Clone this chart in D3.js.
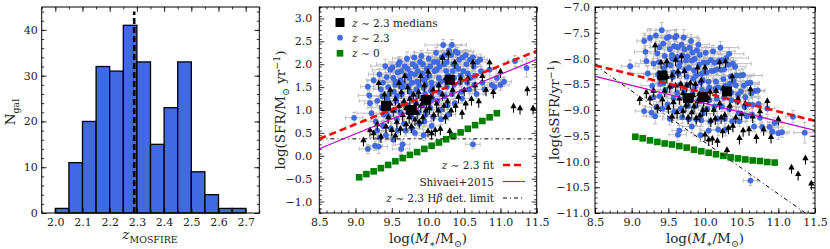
<!DOCTYPE html>
<html>
<head>
<meta charset="utf-8">
<script src="https://cdn.jsdelivr.net/npm/d3@7"></script>
<style>
body { margin: 0; background: #fff; }
svg { display: block; font-family: "DejaVu Serif", "Liberation Serif", serif; }
</style>
</head>
<body>
<svg id="fig" width="830" height="249"></svg>
<script>
// ---- histogram of spectroscopic redshifts
var binLeft = [2.00, 2.05, 2.10, 2.15, 2.20, 2.25, 2.30, 2.35, 2.40, 2.45, 2.50, 2.55, 2.60, 2.65];
var binCount = [1, 11, 20, 32, 31, 41, 33, 15, 23, 33, 9, 4, 1, 1];
var binWidth = 0.05;
var zMedian = 2.29;
var histXTicks = [2.0, 2.1, 2.2, 2.3, 2.4, 2.5, 2.6, 2.7];
var histYTicks = [0, 10, 20, 30, 40];

// ---- z~2.3 detections: [logM, logSFR, errM, errSFR]
var detections = [
  [8.98,0.83,0.12,0.12],
  [9.17,1.51,0.10,0.15],[9.19,1.32,0.15,0.12],[9.20,1.15,0.08,0.10],[9.22,0.93,0.20,0.15],[9.17,0.15,0.12,0.10],
  [9.25,1.65,0.10,0.18],[9.28,0.75,0.15,0.12],[9.30,1.20,0.25,0.10],[9.27,0.22,0.10,0.10],[9.30,0.55,0.12,0.15],
  [9.33,1.78,0.15,0.12],[9.35,1.45,0.10,0.10],[9.36,1.05,0.20,0.15],[9.38,1.60,0.12,0.12],[9.34,0.40,0.15,0.10],
  [9.38,0.65,0.10,0.12],[9.32,0.20,0.12,0.15],[9.37,1.30,0.18,0.10],[9.39,0.90,0.10,0.12],
  [9.41,1.96,0.20,0.15],[9.43,1.72,0.10,0.10],[9.45,1.50,0.15,0.12],[9.44,1.25,0.12,0.15],[9.46,0.85,0.18,0.12],
  [9.42,0.45,0.10,0.10],[9.48,1.88,0.25,0.12],[9.47,1.35,0.10,0.10],[9.49,0.60,0.12,0.15],[9.45,1.10,0.15,0.10],
  [9.43,0.95,0.10,0.12],
  [9.51,1.93,0.12,0.12],[9.52,1.70,0.20,0.15],[9.55,1.55,0.10,0.10],[9.53,1.40,0.15,0.12],[9.56,1.20,0.12,0.10],
  [9.54,1.00,0.18,0.15],[9.57,0.80,0.10,0.12],[9.58,0.55,0.15,0.10],[9.52,0.35,0.10,0.12],[9.59,2.00,0.30,0.15],
  [9.58,1.82,0.12,0.10],[9.55,1.62,0.10,0.12],[9.57,1.30,0.20,0.10],
  [9.61,2.05,0.15,0.12],[9.63,1.85,0.10,0.10],[9.62,1.65,0.20,0.15],[9.65,1.50,0.12,0.12],[9.64,1.35,0.10,0.10],
  [9.66,1.15,0.15,0.12],[9.62,0.95,0.12,0.10],[9.67,0.70,0.18,0.15],[9.65,0.25,0.10,0.10],[9.63,0.15,0.12,0.12],
  [9.68,1.95,0.25,0.12],[9.69,1.75,0.10,0.10],[9.66,1.58,0.15,0.12],[9.69,0.55,0.10,0.12],
  [9.71,2.12,0.20,0.15],[9.72,1.90,0.10,0.10],[9.74,1.70,0.15,0.12],[9.73,1.52,0.12,0.10],[9.75,1.40,0.10,0.12],
  [9.76,1.25,0.18,0.10],[9.72,1.10,0.12,0.15],[9.77,0.85,0.10,0.12],[9.78,0.60,0.15,0.10],[9.79,2.00,0.30,0.12],
  [9.76,1.80,0.12,0.10],[9.78,1.60,0.10,0.12],[9.74,0.95,0.15,0.10],
  [9.81,2.15,0.12,0.12],[9.83,1.95,0.20,0.15],[9.82,1.78,0.10,0.10],[9.85,1.62,0.15,0.12],[9.84,1.45,0.12,0.10],
  [9.86,1.30,0.10,0.12],[9.83,1.15,0.18,0.10],[9.87,0.95,0.12,0.15],[9.88,0.70,0.10,0.12],[9.89,2.05,0.25,0.12],
  [9.86,1.85,0.10,0.10],[9.88,1.55,0.15,0.12],[9.82,0.50,0.12,0.12],
  [9.91,2.18,0.15,0.12],[9.93,2.00,0.10,0.10],[9.92,1.80,0.20,0.15],[9.95,1.65,0.12,0.12],[9.94,1.48,0.10,0.10],
  [9.96,1.35,0.15,0.12],[9.93,1.10,0.12,0.10],[9.97,0.90,0.18,0.15],[9.94,0.45,0.10,0.12],[9.98,1.90,0.30,0.12],
  [9.99,1.72,0.10,0.10],[9.97,1.55,0.15,0.12],[9.95,0.75,0.10,0.12],
  [10.01,2.12,0.20,0.12],[10.03,1.95,0.10,0.10],[10.02,1.75,0.15,0.15],[10.05,1.60,0.12,0.12],[10.04,1.42,0.10,0.10],
  [10.06,1.25,0.18,0.12],[10.03,1.05,0.12,0.10],[10.07,0.85,0.10,0.15],[10.08,2.05,0.25,0.12],[10.09,1.85,0.10,0.10],
  [10.06,1.50,0.15,0.12],[10.05,0.65,0.12,0.12],
  [10.11,2.25,0.30,0.12],[10.13,2.05,0.12,0.10],[10.12,1.88,0.10,0.15],[10.15,1.70,0.15,0.12],[10.14,1.55,0.12,0.10],
  [10.16,1.38,0.10,0.12],[10.13,1.20,0.18,0.10],[10.17,1.00,0.12,0.15],[10.18,0.80,0.10,0.12],[10.19,2.15,0.20,0.12],
  [10.16,1.95,0.10,0.10],[10.18,1.62,0.15,0.12],
  [10.21,2.42,0.25,0.12],[10.23,2.20,0.12,0.10],[10.22,2.00,0.10,0.15],[10.25,1.85,0.15,0.12],[10.24,1.65,0.12,0.10],
  [10.26,1.50,0.10,0.12],[10.23,1.30,0.18,0.10],[10.27,1.10,0.12,0.15],[10.28,0.90,0.10,0.12],[10.29,2.30,0.30,0.12],
  [10.26,2.05,0.10,0.10],[10.28,1.75,0.15,0.12],
  [10.33,2.42,0.20,0.12],[10.32,2.20,0.12,0.10],[10.35,2.00,0.10,0.15],[10.34,1.85,0.15,0.12],[10.36,1.55,0.12,0.10],
  [10.33,1.35,0.10,0.12],[10.37,1.15,0.18,0.10],[10.38,2.28,0.25,0.12],[10.39,1.95,0.10,0.10],[10.36,1.70,0.15,0.12],
  [10.41,2.25,0.15,0.12],[10.43,2.10,0.10,0.10],[10.42,1.90,0.20,0.15],[10.45,1.75,0.12,0.12],[10.44,1.60,0.10,0.10],
  [10.46,1.40,0.15,0.12],[10.48,2.15,0.30,0.12],[10.47,1.25,0.10,0.10],[10.49,1.85,0.12,0.12],
  [10.52,2.20,0.15,0.12],[10.53,2.00,0.10,0.10],[10.55,1.80,0.20,0.15],[10.54,1.60,0.12,0.12],[10.57,1.45,0.10,0.10],
  [10.58,2.10,0.15,0.12],[10.59,1.70,0.10,0.10],
  [10.62,2.15,0.12,0.12],[10.63,1.95,0.10,0.10],[10.65,1.75,0.15,0.15],[10.64,1.55,0.10,0.12],[10.62,0.25,0.10,0.10],
  [10.68,2.05,0.12,0.12],[10.67,1.35,0.10,0.10],
  [10.72,2.10,0.10,0.12],[10.73,1.85,0.12,0.10],[10.75,1.60,0.10,0.12],[10.78,1.45,0.15,0.10],[10.85,1.88,0.10,0.12],
  [10.88,1.55,0.12,0.10],[10.92,1.50,0.10,0.12],[10.95,1.70,0.10,0.10],[11.00,1.55,0.12,0.12],[11.05,1.62,0.10,0.10],
  [11.20,2.07,0.10,0.12],[11.36,1.92,0.15,0.20]
];

// ---- z~2.3 lower limits (Hb not detected): [logM, logSFR]
var limits = [
  [9.11,0.20],[9.20,0.42],[9.25,0.35],[9.32,1.45],[9.30,0.55],[9.35,0.28],[9.38,0.90],[9.40,1.20],[9.42,0.50],
  [9.45,0.70],[9.48,1.00],[9.50,0.42],[9.48,1.30],
  [9.52,0.85],[9.55,1.10],[9.57,0.60],[9.60,0.95],[9.62,0.45],[9.63,1.25],[9.65,0.75],[9.67,1.05],[9.70,0.55],
  [9.70,0.90],[9.72,1.35],[9.74,0.70],[9.75,1.10],[9.77,0.50],[9.78,0.85],[9.60,1.45],[9.68,1.60],[9.55,0.30],
  [9.80,1.20],
  [9.82,0.65],[9.84,1.00],[9.85,0.80],[9.87,1.25],[9.88,0.60],[9.90,0.95],[9.92,1.10],[9.93,0.70],[9.95,1.40],
  [9.97,0.85],[9.98,1.05],[10.00,0.40],[10.02,0.90],[10.04,1.15],[10.05,0.35],[10.07,1.30],[10.08,0.75],
  [9.90,1.60],[10.00,1.70],
  [10.10,0.42],[10.12,1.00],[10.14,0.85],[10.15,1.40],[10.17,0.45],[10.20,1.20],[10.22,0.95],[10.24,0.70],
  [10.25,1.55],[10.27,1.05],[10.30,0.40],[10.32,0.85],[10.34,1.30],[10.37,1.90],[10.38,0.95],[10.20,2.00],
  [10.28,2.10],
  [10.42,1.15],[10.45,1.55],[10.47,0.80],[10.50,1.30],[10.52,1.00],[10.55,1.55],[10.60,1.10],[10.62,1.90],
  [10.65,1.40],[10.70,1.05],[10.75,1.60],[10.80,1.30],[10.85,1.90],[10.90,1.25],[11.00,1.70],
  [11.18,0.94],[11.27,0.90],[11.37,1.31],[11.45,0.90]
];

// ---- binned medians of the z~2.3 sample
var medM = [9.42, 9.77, 9.97, 10.30];
var medSFR = [1.09, 1.00, 1.22, 1.66];

// ---- z~0 comparison sample
var localM = [9.05, 9.15, 9.25, 9.35, 9.45, 9.55, 9.65, 9.75, 9.85, 9.95,
              10.05, 10.15, 10.25, 10.35, 10.45, 10.55, 10.65, 10.75, 10.85, 10.95];
var localSFR = [-0.47, -0.40, -0.34, -0.27, -0.20, -0.12, -0.05, 0.02, 0.08, 0.15,
                0.22, 0.29, 0.36, 0.43, 0.51, 0.59, 0.67, 0.76, 0.84, 0.93];

// ---- relations, given by end points [logM, logSFR]
var fitLine = [[8.5, 0.37], [11.5, 2.29]];
var shivaeiLine = [[8.5, 0.155], [11.5, 2.105]];
var limitLine = [[8.5, 0.37], [11.5, 0.37]];

var massTicks = [8.5, 9.0, 9.5, 10.0, 10.5, 11.0, 11.5];
var sfrTicks = [-1.0, -0.5, 0.0, 0.5, 1.0, 1.5, 2.0, 2.5, 3.0];
var ssfrTicks = [-11.0, -10.5, -10.0, -9.5, -9.0, -8.5, -8.0, -7.5, -7.0];

var BLUE = "#4169e1", GREEN = "#008000", ERR = "#b8b8b8", MAG = "#bf00bf";
var svg = d3.select("#fig");
var f1 = d3.format(".1f");
var top0 = 7, bot0 = 213;
var TICKFONT = 11, LABFONT = 13.5, LEGFONT = 10.5;

function makeAxes(g, sx, sy, xMaj, xMin, yMaj, yMin, xf, yf, padY) {
    var [x0, x1] = sx.range(), [y1, y0] = sy.range();
    var strip = s => s.attr("font-family", null).attr("font-size", null).select(".domain").remove();
    g.append("g").attr("transform", "translate(0," + y1 + ")")
        .call(d3.axisBottom(sx).tickValues(xMaj).tickSize(-5).tickPadding(5).tickFormat(xf)).call(strip);
    g.append("g").attr("transform", "translate(0," + y1 + ")")
        .call(d3.axisBottom(sx).tickValues(xMin).tickSize(-2.5).tickFormat("")).call(strip);
    g.append("g").attr("transform", "translate(0," + y0 + ")")
        .call(d3.axisTop(sx).tickValues(xMaj).tickSize(-5).tickFormat("")).call(strip);
    g.append("g").attr("transform", "translate(0," + y0 + ")")
        .call(d3.axisTop(sx).tickValues(xMin).tickSize(-2.5).tickFormat("")).call(strip);
    g.append("g").attr("transform", "translate(" + x0 + ",0)")
        .call(d3.axisLeft(sy).tickValues(yMaj).tickSize(-5).tickPadding(padY).tickFormat(yf)).call(strip);
    g.append("g").attr("transform", "translate(" + x0 + ",0)")
        .call(d3.axisLeft(sy).tickValues(yMin).tickSize(-2.5).tickFormat("")).call(strip);
    g.append("g").attr("transform", "translate(" + x1 + ",0)")
        .call(d3.axisRight(sy).tickValues(yMaj).tickSize(-5).tickFormat("")).call(strip);
    g.append("g").attr("transform", "translate(" + x1 + ",0)")
        .call(d3.axisRight(sy).tickValues(yMin).tickSize(-2.5).tickFormat("")).call(strip);
    g.selectAll(".tick text").attr("font-size", TICKFONT).attr("fill", "#222");
    g.selectAll(".tick line").attr("stroke", "#000").attr("stroke-width", 0.8);
    g.append("rect").attr("x", x0).attr("y", y0).attr("width", x1 - x0).attr("height", y1 - y0)
        .attr("fill", "none").attr("stroke", "#000").attr("stroke-width", 1);
}

// write text made of parts: [string, kind] kind = "" | "i" | "sub" | "sup"
function mathText(sel, parts, size) {
    var t = sel.append("text").attr("font-size", size).attr("fill", "#222");
    var shift = 0;
    parts.forEach(function (p) {
        var s = t.append("tspan").text(p[0]);
        var want = 0;
        if (p[1] == "sub") want = size * 0.3;
        if (p[1] == "sup") want = -size * 0.4;
        if (p[1] == "sub" || p[1] == "sup") s.attr("font-size", size * 0.7);
        if (p[1] == "i") s.attr("font-style", "italic");
        if (want != shift) { s.attr("dy", want - shift); shift = want; }
    });
    return t;
}

function minorRange(a, b, step) {
    return d3.range(Math.round((b - a) / step) + 1).map(i => +(a + i * step).toFixed(3));
}

// ================= panel 1: histogram
(function () {
    var sx = d3.scaleLinear().domain([1.95, 2.75]).range([41.7, 259.3]);
    var sy = d3.scaleLinear().domain([0, 45]).range([bot0, top0]);
    var g = svg.append("g");
    g.selectAll("rect.bar").data(binLeft).join("rect").attr("class", "bar")
        .attr("x", d => sx(d)).attr("width", d => sx(d + binWidth) - sx(d))
        .attr("y", (d, i) => sy(binCount[i])).attr("height", (d, i) => sy(0) - sy(binCount[i]))
        .attr("fill", BLUE).attr("stroke", "#000").attr("stroke-width", 1.3);
    g.append("line").attr("x1", sx(zMedian)).attr("x2", sx(zMedian))
        .attr("y1", sy(0)).attr("y2", sy(44))
        .attr("stroke", "#000").attr("stroke-width", 2.6).attr("stroke-dasharray", "6,3");
    makeAxes(g, sx, sy, histXTicks, minorRange(1.95, 2.75, 0.05), histYTicks, minorRange(0, 44, 2),
        f1, d3.format("d"), 4);
    mathText(g, [["z", "i"], ["MOSFIRE", "sub"]], LABFONT).attr("x", 150).attr("y", 239).attr("text-anchor", "middle");
    mathText(g, [["N", ""], ["gal", "sub"]], LABFONT).attr("text-anchor", "middle")
        .attr("transform", "translate(15,112) rotate(-90)");
})();

// ================= panels 2 and 3
function scatterPanel(x0, x1, yDom, yTicks, yv, padY) {
    var sx = d3.scaleLinear().domain([8.5, 11.5]).range([x0, x1]);
    var sy = d3.scaleLinear().domain(yDom).range([bot0, top0]);
    var g = svg.append("g");
    var id = "clip" + Math.round(x0);
    g.append("clipPath").attr("id", id).append("rect")
        .attr("x", x0).attr("y", top0).attr("width", x1 - x0).attr("height", bot0 - top0);
    var p = g.append("g").attr("clip-path", "url(#" + id + ")");

    // error bars
    p.append("g").selectAll("path").data(detections).join("path")
        .attr("d", function (d) {
            var x = sx(d[0]), y = sy(yv(d[0], d[1]));
            var xa = sx(d[0] - d[2]), xb = sx(d[0] + d[2]);
            var ya = sy(yv(d[0], d[1]) - d[3]), yb = sy(yv(d[0], d[1]) + d[3]);
            return "M" + xa + "," + y + "H" + xb + "M" + x + "," + ya + "V" + yb +
                "M" + xa + "," + (y - 2) + "v4M" + xb + "," + (y - 2) + "v4" +
                "M" + (x - 2) + "," + ya + "h4M" + (x - 2) + "," + yb + "h4";
        })
        .attr("fill", "none").attr("stroke", ERR).attr("stroke-width", 0.9);
    // detections
    p.append("g").selectAll("circle").data(detections).join("circle")
        .attr("cx", d => sx(d[0])).attr("cy", d => sy(yv(d[0], d[1]))).attr("r", 2.9)
        .attr("fill", BLUE);
    // lower limits
    p.append("g").selectAll("path").data(limits).join("path")
        .attr("d", function (d) {
            var x = sx(d[0]), y = sy(yv(d[0], d[1]));
            return "M" + x + "," + y + "V" + (y - 6) + "M" + (x - 2.2) + "," + (y - 5) +
                "L" + x + "," + (y - 9) + "L" + (x + 2.2) + "," + (y - 5) + "Z";
        })
        .attr("fill", "#000").attr("stroke", "#000").attr("stroke-width", 1.1);
    // z~0
    p.append("g").selectAll("rect").data(localM).join("rect")
        .attr("x", d => sx(d) - 3.3).attr("y", (d, i) => sy(yv(d, localSFR[i])) - 3.3)
        .attr("width", 6.6).attr("height", 6.6).attr("fill", GREEN);
    // relations
    var ln = d3.line().x(d => sx(d[0])).y(d => sy(yv(d[0], d[1])));
    p.append("path").attr("d", ln(limitLine)).attr("fill", "none").attr("stroke", "#000")
        .attr("stroke-width", 1).attr("stroke-dasharray", "4,3,1,3");
    p.append("path").attr("d", ln(shivaeiLine)).attr("fill", "none").attr("stroke", MAG)
        .attr("stroke-width", 1.2);
    p.append("path").attr("d", ln(fitLine)).attr("fill", "none").attr("stroke", "red")
        .attr("stroke-width", 2.6).attr("stroke-dasharray", "7,4");
    // medians
    p.append("g").selectAll("rect").data(medM).join("rect")
        .attr("x", d => sx(d) - 5).attr("y", (d, i) => sy(yv(d, medSFR[i])) - 5)
        .attr("width", 10).attr("height", 10).attr("fill", "#000");

    makeAxes(g, sx, sy, massTicks, minorRange(8.5, 11.5, 0.1), yTicks,
        minorRange(yDom[0], yDom[1], 0.1), f1, f1, padY);
    mathText(g, [["log(", ""], ["M", "i"], ["∗", "sub"], ["/M", ""], ["⊙", "sub"], [")", ""]], LABFONT)
        .attr("x", (x0 + x1) / 2).attr("y", 243).attr("text-anchor", "middle");
    return g;
}

var g2 = scatterPanel(319.3, 536.7, [-1.25, 3.25], sfrTicks, (m, s) => s, 7);
mathText(g2, [["log(SFR/M", ""], ["⊙", "sub"], [" yr", ""], ["−1", "sup"], [")", ""]], LABFONT)
    .attr("text-anchor", "middle").attr("transform", "translate(285,110) rotate(-90)");

var g3 = scatterPanel(595, 815, [-11, -7], ssfrTicks, (m, s) => s - m, 5);
mathText(g3, [["log(sSFR/yr", ""], ["−1", "sup"], [")", ""]], LABFONT)
    .attr("text-anchor", "middle").attr("transform", "translate(559,110) rotate(-90)");

// ---- legends (panel 2)
var lg = svg.append("g");
lg.append("rect").attr("x", 335.5).attr("y", 18).attr("width", 9).attr("height", 9).attr("fill", "#000");
lg.append("circle").attr("cx", 340).attr("cy", 37.7).attr("r", 2.9).attr("fill", BLUE);
lg.append("rect").attr("x", 336.7).attr("y", 50).attr("width", 6.6).attr("height", 6.6).attr("fill", GREEN);
mathText(lg, [["z", "i"], [" ∼ 2.3 medians", ""]], LEGFONT).attr("x", 352).attr("y", 26.5);
mathText(lg, [["z", "i"], [" ∼ 2.3", ""]], LEGFONT).attr("x", 352).attr("y", 41.5);
mathText(lg, [["z", "i"], [" ∼ 0", ""]], LEGFONT).attr("x", 352).attr("y", 57);

mathText(lg, [["z", "i"], [" ∼ 2.3 fit", ""]], LEGFONT).attr("x", 494).attr("y", 168.5).attr("text-anchor", "end");
mathText(lg, [["Shivaei+2015", ""]], LEGFONT).attr("x", 494).attr("y", 185.5).attr("text-anchor", "end");
mathText(lg, [["z", "i"], [" ∼ 2.3 H", ""], ["β", "i"], [" det. limit", ""]], LEGFONT)
    .attr("x", 494).attr("y", 201.5).attr("text-anchor", "end");
lg.append("line").attr("x1", 503).attr("x2", 525).attr("y1", 165).attr("y2", 165)
    .attr("stroke", "red").attr("stroke-width", 2.6).attr("stroke-dasharray", "7,4");
lg.append("line").attr("x1", 503).attr("x2", 525).attr("y1", 181.5).attr("y2", 181.5)
    .attr("stroke", MAG).attr("stroke-width", 1.2);
lg.append("line").attr("x1", 503).attr("x2", 525).attr("y1", 198).attr("y2", 198)
    .attr("stroke", "#000").attr("stroke-width", 1).attr("stroke-dasharray", "4,3,1,3");
</script>
</body>
</html>
